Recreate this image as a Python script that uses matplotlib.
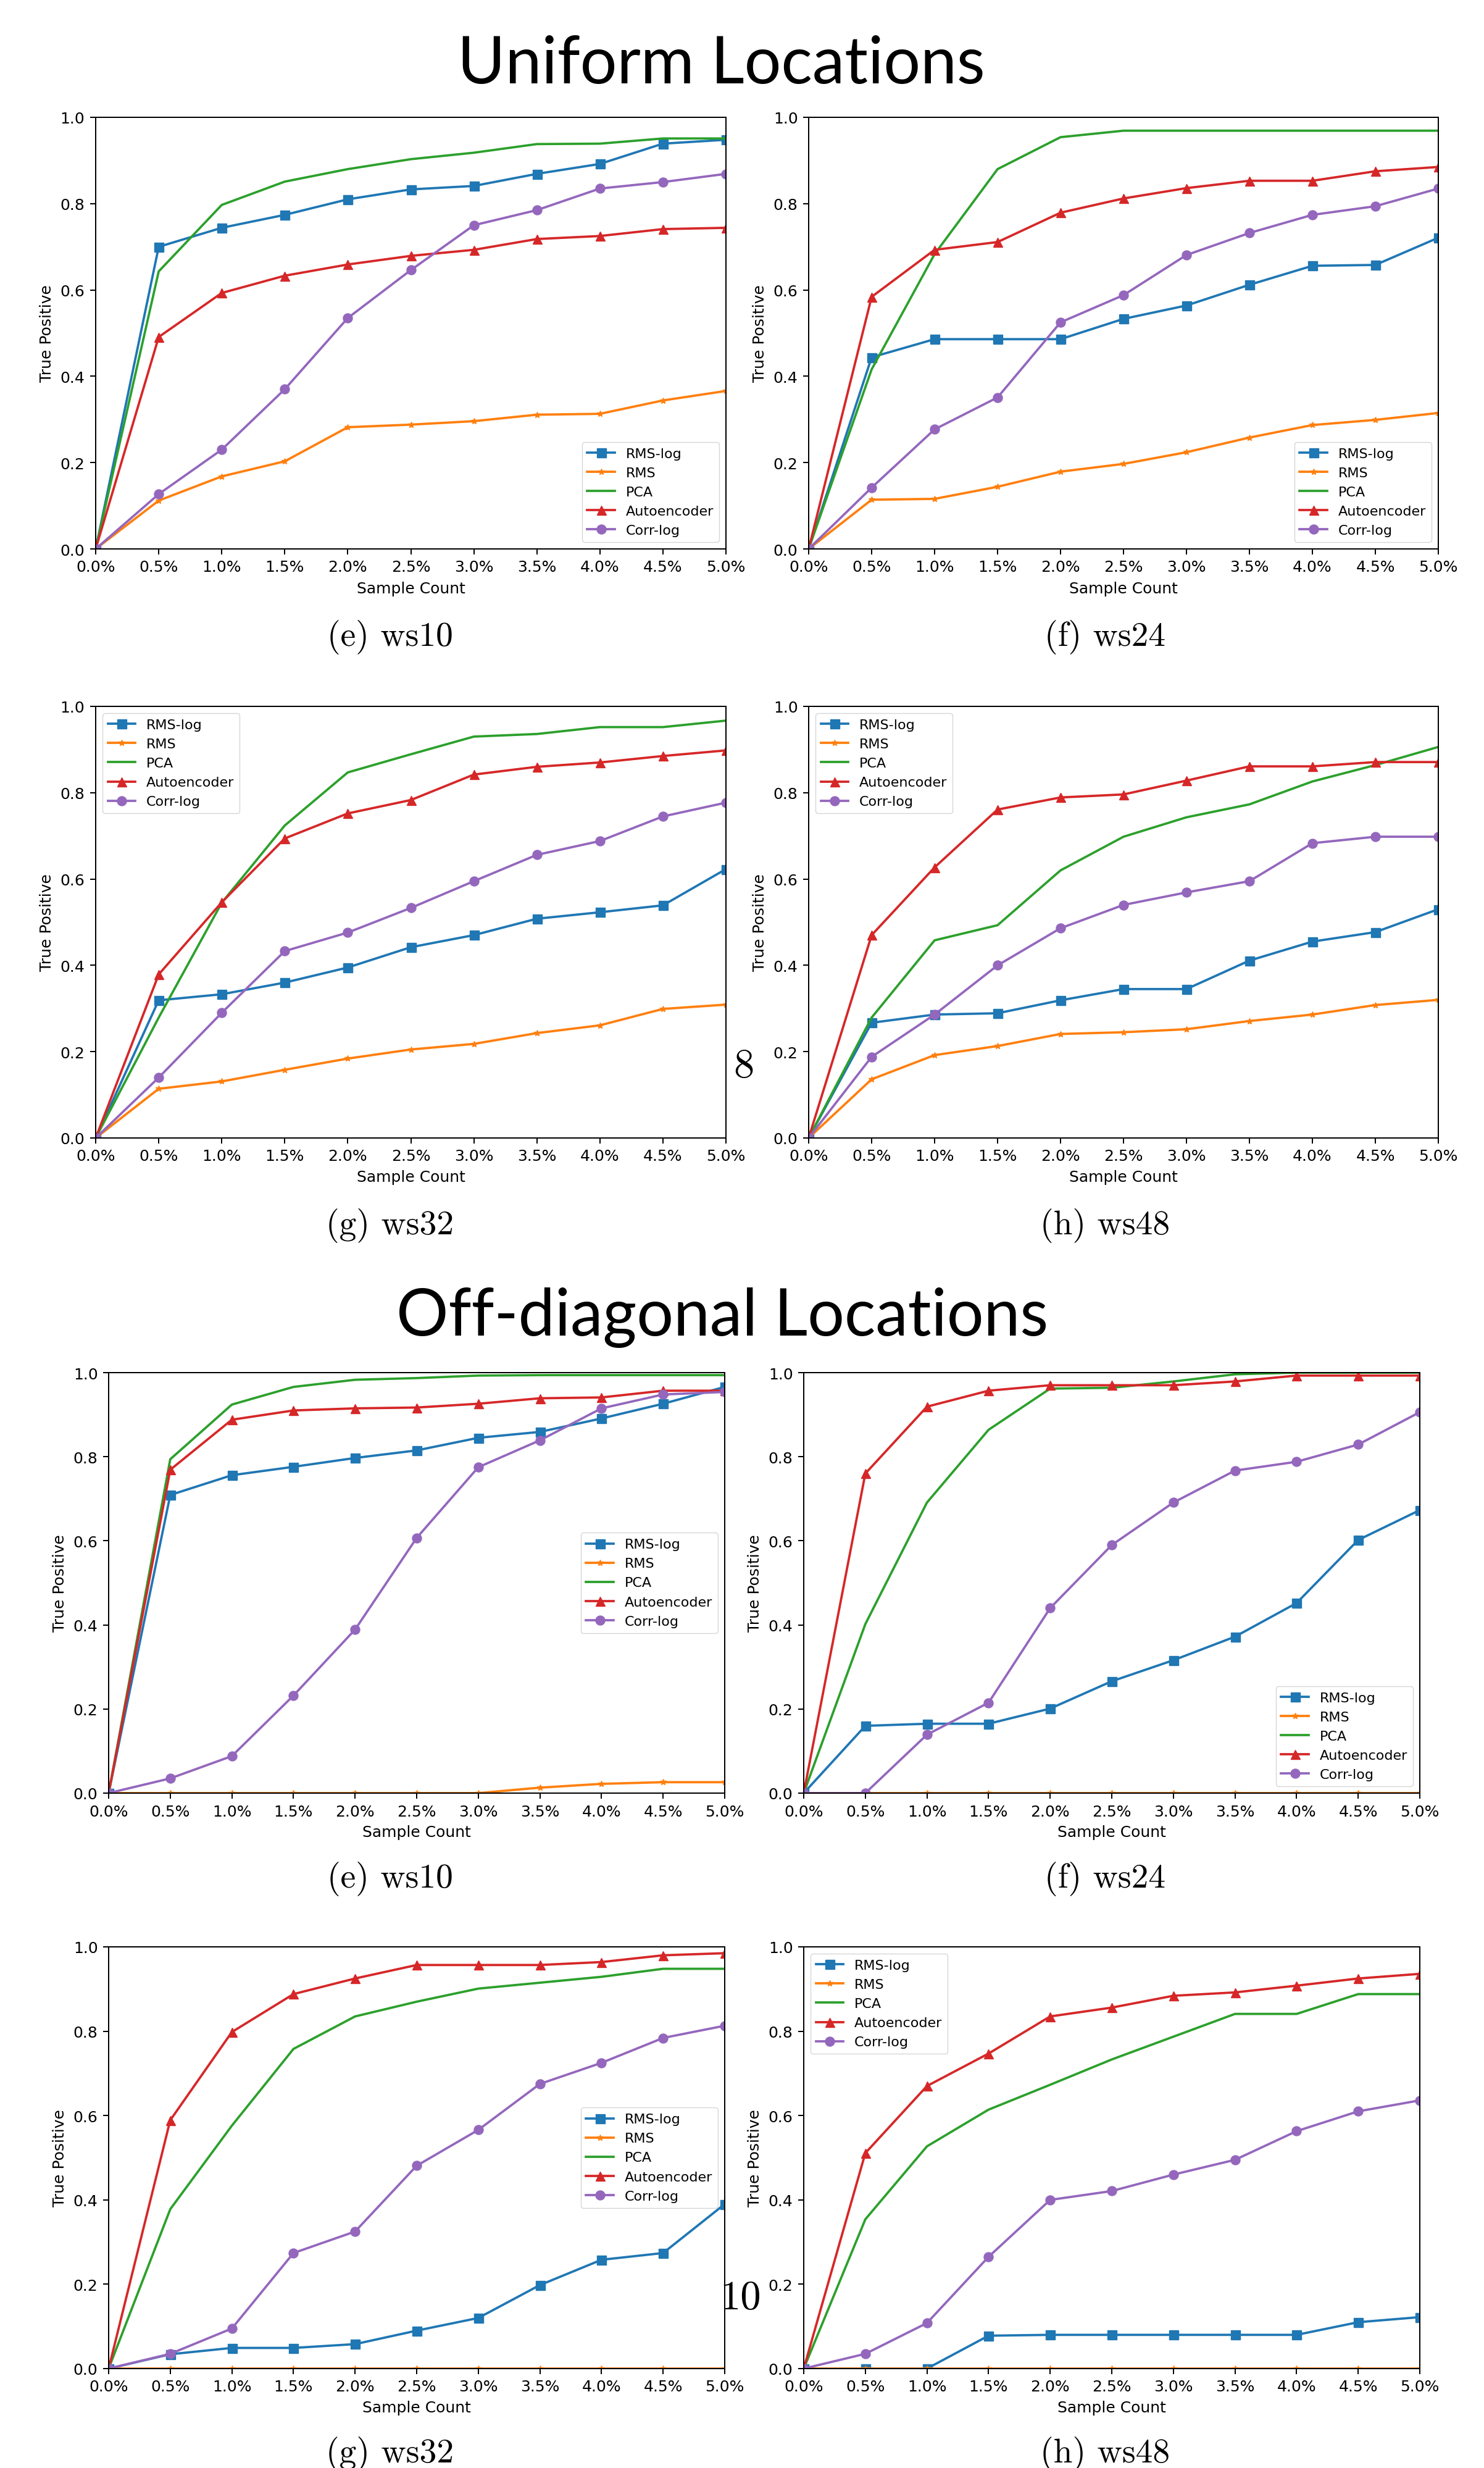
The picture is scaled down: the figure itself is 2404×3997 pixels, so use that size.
import matplotlib
matplotlib.use("Agg")
import matplotlib.pyplot as plt

# ---------------- data ----------------
SAMPLE_PCT = [0.0, 0.5, 1.0, 1.5, 2.0, 2.5, 3.0, 3.5, 4.0, 4.5, 5.0]
X_TICK_LABELS = ["0.0%", "0.5%", "1.0%", "1.5%", "2.0%", "2.5%", "3.0%", "3.5%", "4.0%", "4.5%", "5.0%"]
Y_TICKS = [0.0, 0.2, 0.4, 0.6, 0.8, 1.0]
METHODS = ["RMS-log", "RMS", "PCA", "Autoencoder", "Corr-log"]
SECTION_TITLES = ["Uniform Locations", "Off-diagonal Locations"]
CAPTIONS = ["(e) ws10", "(f) ws24", "(g) ws32", "(h) ws48"]
PAGE_NUMBERS = ["8", "10"]

# Uniform locations
U10_RMS_LOG = [0.0, 0.700, 0.744, 0.774, 0.810, 0.833, 0.841, 0.869, 0.892, 0.939, 0.948]
U10_RMS     = [0.0, 0.112, 0.168, 0.203, 0.282, 0.288, 0.296, 0.311, 0.313, 0.344, 0.366]
U10_PCA     = [0.0, 0.643, 0.797, 0.851, 0.880, 0.903, 0.918, 0.938, 0.939, 0.951, 0.951]
U10_AE      = [0.0, 0.491, 0.593, 0.633, 0.659, 0.679, 0.693, 0.718, 0.725, 0.741, 0.744]
U10_CORR    = [0.0, 0.127, 0.230, 0.370, 0.535, 0.646, 0.750, 0.785, 0.835, 0.850, 0.869]

U24_RMS_LOG = [0.0, 0.444, 0.486, 0.486, 0.486, 0.533, 0.564, 0.612, 0.656, 0.658, 0.721]
U24_RMS     = [0.0, 0.114, 0.116, 0.144, 0.179, 0.197, 0.224, 0.258, 0.287, 0.299, 0.315]
U24_PCA     = [0.0, 0.416, 0.683, 0.880, 0.954, 0.969, 0.969, 0.969, 0.969, 0.969, 0.969]
U24_AE      = [0.0, 0.584, 0.693, 0.711, 0.779, 0.812, 0.836, 0.853, 0.853, 0.875, 0.885]
U24_CORR    = [0.0, 0.142, 0.277, 0.351, 0.525, 0.588, 0.681, 0.732, 0.774, 0.794, 0.835]

U32_RMS_LOG = [0.0, 0.319, 0.333, 0.360, 0.395, 0.442, 0.470, 0.508, 0.523, 0.539, 0.623]
U32_RMS     = [0.0, 0.114, 0.131, 0.158, 0.184, 0.205, 0.218, 0.243, 0.261, 0.299, 0.309]
U32_PCA     = [0.0, 0.279, 0.545, 0.724, 0.847, 0.889, 0.930, 0.936, 0.952, 0.952, 0.967]
U32_AE      = [0.0, 0.379, 0.546, 0.694, 0.752, 0.783, 0.842, 0.860, 0.870, 0.885, 0.898]
U32_CORR    = [0.0, 0.140, 0.290, 0.433, 0.476, 0.533, 0.595, 0.656, 0.688, 0.745, 0.777]

U48_RMS_LOG = [0.0, 0.267, 0.286, 0.289, 0.319, 0.345, 0.345, 0.411, 0.455, 0.477, 0.530]
U48_RMS     = [0.0, 0.136, 0.192, 0.213, 0.241, 0.245, 0.252, 0.271, 0.286, 0.308, 0.320]
U48_PCA     = [0.0, 0.279, 0.458, 0.493, 0.620, 0.698, 0.743, 0.773, 0.826, 0.864, 0.906]
U48_AE      = [0.0, 0.470, 0.627, 0.761, 0.789, 0.796, 0.828, 0.861, 0.861, 0.871, 0.871]
U48_CORR    = [0.0, 0.188, 0.286, 0.400, 0.486, 0.540, 0.569, 0.595, 0.683, 0.698, 0.698]

# Off-diagonal locations
O10_RMS_LOG = [0.0, 0.709, 0.756, 0.776, 0.797, 0.815, 0.845, 0.859, 0.891, 0.926, 0.966]
O10_RMS     = [0.0, 0.0, 0.0, 0.0, 0.0, 0.0, 0.0, 0.013, 0.022, 0.026, 0.026]
O10_PCA     = [0.0, 0.794, 0.924, 0.966, 0.983, 0.987, 0.993, 0.994, 0.994, 0.994, 0.994]
O10_AE      = [0.0, 0.769, 0.888, 0.910, 0.915, 0.917, 0.926, 0.939, 0.941, 0.957, 0.957]
O10_CORR    = [0.0, 0.035, 0.088, 0.232, 0.389, 0.607, 0.775, 0.839, 0.915, 0.948, 0.954]

O24_RMS_LOG = [0.0, 0.160, 0.165, 0.165, 0.201, 0.266, 0.316, 0.372, 0.452, 0.602, 0.673]
O24_RMS     = [0.0, 0.0, 0.0, 0.0, 0.0, 0.0, 0.0, 0.0, 0.0, 0.0, 0.0]
O24_PCA     = [0.0, 0.402, 0.691, 0.864, 0.962, 0.964, 0.979, 0.996, 1.0, 1.0, 1.0]
O24_AE      = [0.0, 0.760, 0.919, 0.957, 0.970, 0.970, 0.970, 0.979, 0.993, 0.993, 0.993]
O24_CORR    = [0.0, 0.0, 0.139, 0.215, 0.440, 0.590, 0.691, 0.767, 0.788, 0.829, 0.906]

O32_RMS_LOG = [0.0, 0.034, 0.049, 0.049, 0.058, 0.090, 0.120, 0.198, 0.258, 0.274, 0.390]
O32_RMS     = [0.0, 0.0, 0.0, 0.0, 0.0, 0.0, 0.0, 0.0, 0.0, 0.0, 0.0]
O32_PCA     = [0.0, 0.378, 0.576, 0.758, 0.835, 0.870, 0.901, 0.915, 0.929, 0.948, 0.948]
O32_AE      = [0.0, 0.589, 0.798, 0.888, 0.925, 0.957, 0.957, 0.957, 0.964, 0.980, 0.985]
O32_CORR    = [0.0, 0.035, 0.095, 0.274, 0.325, 0.481, 0.566, 0.675, 0.725, 0.784, 0.813]

O48_RMS_LOG = [0.0, 0.0, 0.0, 0.078, 0.080, 0.080, 0.080, 0.080, 0.080, 0.110, 0.122]
O48_RMS     = [0.0, 0.0, 0.0, 0.0, 0.0, 0.0, 0.0, 0.0, 0.0, 0.0, 0.0]
O48_PCA     = [0.0, 0.354, 0.527, 0.614, 0.673, 0.733, 0.787, 0.841, 0.841, 0.888, 0.888]
O48_AE      = [0.0, 0.511, 0.670, 0.747, 0.835, 0.856, 0.884, 0.892, 0.908, 0.925, 0.936]
O48_CORR    = [0.0, 0.035, 0.108, 0.265, 0.400, 0.421, 0.460, 0.495, 0.563, 0.610, 0.636]

# ---------------- layout / style ----------------
W, H = 2404, 3998
fig = plt.figure(figsize=(W / 100, H / 100), dpi=100)
fig.patch.set_facecolor("white")

S = 1.8  # scale of the embedded matplotlib plots
COLORS = ["#1f77b4", "#ff7f0e", "#2ca02c", "#d62728", "#9467bd"]
MARKERS = ["s", "*", None, "^", "o"]
MSIZES = [6 * S, 4 * S, 0, 6 * S, 6 * S]


def fx(x):
    return x / W


def fy(y):
    return 1 - y / H


def add_panel(box, series, legend_loc):
    l, t, r, b = box
    ax = fig.add_axes([fx(l), fy(b), (r - l) / W, (b - t) / H])
    for name, vals, c, m, ms in zip(METHODS, series, COLORS, MARKERS, MSIZES):
        ax.plot(SAMPLE_PCT, vals, color=c, marker=m, markersize=ms,
                linewidth=1.5 * S, label=name)
    ax.set_xlim(0, 5.0)
    ax.set_ylim(0, 1.0)
    ax.set_xticks(SAMPLE_PCT)
    ax.set_xticklabels(X_TICK_LABELS)
    ax.set_yticks(Y_TICKS)
    ax.set_yticklabels([f"{v:.1f}" for v in Y_TICKS])
    ax.tick_params(labelsize=10 * S, length=3.5 * S, width=0.8 * S, pad=3.5 * S)
    for sp in ax.spines.values():
        sp.set_linewidth(0.8 * S)
    ax.set_xlabel("Sample Count", fontsize=10 * S, labelpad=4 * S)
    ax.set_ylabel("True Positive", fontsize=10 * S, labelpad=4 * S)
    ax.legend(loc=legend_loc, fontsize=16, handlelength=2.0)
    return ax


panels = [
    ((155, 191, 1176, 890), [U10_RMS_LOG, U10_RMS, U10_PCA, U10_AE, U10_CORR], "lower right"),
    ((1310, 191, 2330, 890), [U24_RMS_LOG, U24_RMS, U24_PCA, U24_AE, U24_CORR], "lower right"),
    ((155, 1145, 1176, 1844), [U32_RMS_LOG, U32_RMS, U32_PCA, U32_AE, U32_CORR], "upper left"),
    ((1310, 1145, 2330, 1844), [U48_RMS_LOG, U48_RMS, U48_PCA, U48_AE, U48_CORR], "upper left"),
    ((176, 2224, 1174, 2905), [O10_RMS_LOG, O10_RMS, O10_PCA, O10_AE, O10_CORR], "center right"),
    ((1302, 2224, 2300, 2905), [O24_RMS_LOG, O24_RMS, O24_PCA, O24_AE, O24_CORR], "lower right"),
    ((176, 3154, 1174, 3837), [O32_RMS_LOG, O32_RMS, O32_PCA, O32_AE, O32_CORR], "center right"),
    ((1302, 3154, 2300, 3837), [O48_RMS_LOG, O48_RMS, O48_PCA, O48_AE, O48_CORR], "upper left"),
]
for box, series, loc in panels:
    add_panel(box, series, loc)

# section titles
TITLE_FONT = dict(family=["Lato", "Open Sans", "DejaVu Sans"], fontweight="normal", fontsize=76)
fig.text(fx(1168), fy(135), SECTION_TITLES[0], ha="center", va="baseline", **TITLE_FONT)
fig.text(fx(1170), fy(2163), SECTION_TITLES[1], ha="center", va="baseline", **TITLE_FONT)

# captions
CAP_FONT = dict(family=["cmr10", "DejaVu Serif"], fontsize=40)
cap_rows = [(1046, 0), (1999, 2), (3057, 0), (3988, 2)]
for base_y, k in cap_rows:
    fig.text(fx(632), fy(base_y), CAPTIONS[k], ha="center", va="baseline", **CAP_FONT)
    fig.text(fx(1790), fy(base_y), CAPTIONS[k + 1], ha="center", va="baseline", **CAP_FONT)

# page numbers
PG_FONT = dict(family=["cmr10", "DejaVu Serif"], fontsize=48)
fig.text(fx(1205), fy(1745), PAGE_NUMBERS[0], ha="center", va="baseline", **PG_FONT)
fig.text(fx(1200), fy(3740), PAGE_NUMBERS[1], ha="center", va="baseline", **PG_FONT)

fig.savefig("out.png", dpi=100, facecolor="white")
